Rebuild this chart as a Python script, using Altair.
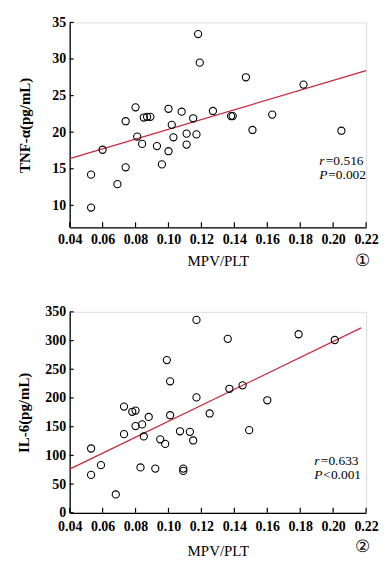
import altair as alt
import pandas as pd

# ---- data ----
x_ticks = [0.04, 0.06, 0.08, 0.10, 0.12, 0.14, 0.16, 0.18, 0.20, 0.22]

tnf_x = [0.118, 0.119, 0.147, 0.182, 0.080, 0.074, 0.085, 0.087, 0.089, 0.100,
         0.108, 0.115, 0.127, 0.138, 0.139, 0.163, 0.102, 0.151, 0.205, 0.081,
         0.084, 0.060, 0.093, 0.100, 0.103, 0.111, 0.111, 0.117, 0.096, 0.074,
         0.053, 0.069, 0.053]
tnf_y = [33.4, 29.5, 27.5, 26.5, 23.4, 21.5, 22.0, 22.1, 22.1, 23.2,
         22.8, 21.9, 22.9, 22.2, 22.2, 22.4, 21.0, 20.3, 20.2, 19.4,
         18.4, 17.6, 18.1, 17.4, 19.3, 19.8, 18.3, 19.7, 15.6, 15.2,
         14.2, 12.9, 9.7]
tnf_fit_x = [0.04, 0.22]
tnf_fit_y = [16.4, 28.4]
tnf_ticks = [10, 15, 20, 25, 30, 35]

il6_x = [0.117, 0.136, 0.179, 0.201, 0.099, 0.101, 0.137, 0.145, 0.117, 0.160,
         0.073, 0.078, 0.080, 0.088, 0.101, 0.125, 0.080, 0.084, 0.149, 0.073,
         0.107, 0.113, 0.085, 0.095, 0.098, 0.115, 0.053, 0.059, 0.083, 0.092,
         0.109, 0.109, 0.053, 0.068]
il6_y = [336, 303, 311, 301, 266, 229, 216, 222, 201, 196,
         185, 176, 178, 167, 170, 173, 151, 154, 144, 137,
         142, 141, 133, 128, 120, 126, 112, 83, 79, 77,
         77, 73, 66, 32]
il6_fit_x = [0.04, 0.217]
il6_fit_y = [76, 322]
il6_ticks = [0, 50, 100, 150, 200, 250, 300, 350]

FONT = "Liberation Serif"
RED = "#c8283c"
W = 298


def panel(px, py, fx, fy, yticks, ydom, ytitle, H, ytp, xlp, xtp,
          r_lab, r_val, p_lab, p_val, circ, ann_x, ann_y1, ann_y2):
    xs = alt.Scale(domain=[0.04, 0.22], nice=False, zero=False)
    ys = alt.Scale(domain=ydom, nice=False, zero=False)
    xaxis = alt.Axis(values=x_ticks, format=".2f", title="MPV/PLT",
                     titleFont=FONT, titleFontSize=15, titleFontWeight="normal",
                     titleColor="black", titlePadding=xtp, labelPadding=xlp,
                     labelFont=FONT, labelFontSize=14, labelFontWeight="bold",
                     labelColor="black", tickSize=0, grid=False,
                     domainColor="black", domainWidth=1.3, labelFlush=False)
    yaxis = alt.Axis(values=yticks, title=ytitle, titleFont=FONT,
                     titleFontSize=15, titleFontWeight="bold", titleColor="black",
                     titlePadding=ytp, labelPadding=4, labelFont=FONT,
                     labelFontSize=14, labelFontWeight="bold", labelColor="black",
                     tickSize=0, grid=False, domainColor="black", domainWidth=1.3,
                     labelFlush=False)
    X = alt.X("x:Q", scale=xs, axis=xaxis)
    Y = alt.Y("y:Q", scale=ys, axis=yaxis)

    pts = alt.Chart(pd.DataFrame({"x": px, "y": py})).mark_point(
        shape="circle", filled=False, color="black", size=52, strokeWidth=1.1,
        opacity=1).encode(x=X, y=Y)
    fit = alt.Chart(pd.DataFrame({"x": fx, "y": fy})).mark_line(
        color=RED, strokeWidth=1.3).encode(x=X, y=Y)
    xt = alt.Chart(pd.DataFrame({"x": x_ticks})).mark_rule(
        color="black", strokeWidth=1.2).encode(
        x=X, y=alt.value(H), y2=alt.value(H - 5))
    yt = alt.Chart(pd.DataFrame({"y": yticks})).mark_rule(
        color="black", strokeWidth=1.2).encode(
        y=Y, x=alt.value(0), x2=alt.value(4))

    one = pd.DataFrame({"a": [0]})

    def txt(s, x, y, style="normal", size=13.5, align="left"):
        return alt.Chart(one).mark_text(
            text=s, font=FONT, fontSize=size, fontStyle=style, color="black",
            align=align, baseline="middle").encode(
            x=alt.value(x), y=alt.value(y))

    layers = [fit, pts, xt, yt,
              txt(r_lab, ann_x, ann_y1, "italic"),
              txt(r_val, ann_x + 6.5, ann_y1),
              txt(p_lab, ann_x, ann_y2, "italic"),
              txt(p_val, ann_x + 9, ann_y2),
              txt(circ, 294, H + 34, size=17, align="center")]
    return alt.layer(*layers).properties(width=W, height=H)


top = panel(tnf_x, tnf_y, tnf_fit_x, tnf_fit_y, tnf_ticks, [7, 35],
            "TNF-α(pg/mL)", 206, 19, 5, 7,
            "r", "=0.516", "P", "=0.002", "①", 251, 139, 153)
bot = panel(il6_x, il6_y, il6_fit_x, il6_fit_y, il6_ticks, [0, 350],
            "IL-6(pg/mL)", 202, 13, 7, 10,
            "r", "=0.633", "P", "<0.001", "②", 246, 150, 164)

chart = alt.vconcat(top, bot, spacing=34).properties(
    padding={"left": 8, "top": 5, "right": 5, "bottom": 5}
).configure_view(stroke=None).configure(background="white")

chart.save("out.html", embed_options={"renderer": "svg", "actions": False})
